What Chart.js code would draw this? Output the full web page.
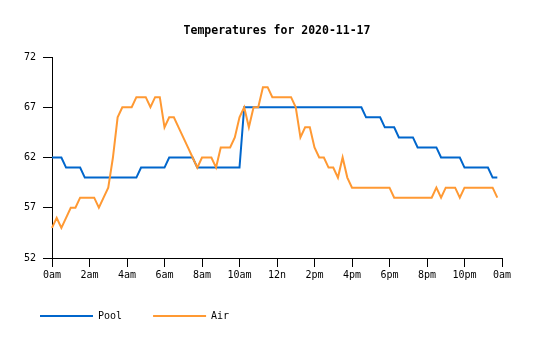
<!DOCTYPE html>
<html>
<head>
<meta charset="utf-8">
<script src="https://cdn.jsdelivr.net/npm/chart.js@4.4.0/dist/chart.umd.min.js"></script>
<style>
html,body{margin:0;padding:0;background:#fff;}
canvas{display:block;}
</style>
</head>
<body>
<canvas id="c" width="535" height="340"></canvas>
<script>
const times = [
"00:00","00:15","00:30","00:45","01:00","01:15","01:30","01:45",
"02:00","02:15","02:30","02:45","03:00","03:15","03:30","03:45",
"04:00","04:15","04:30","04:45","05:00","05:15","05:30","05:45",
"06:00","06:15","06:30","06:45","07:00","07:15","07:30","07:45",
"08:00","08:15","08:30","08:45","09:00","09:15","09:30","09:45",
"10:00","10:15","10:30","10:45","11:00","11:15","11:30","11:45",
"12:00","12:15","12:30","12:45","13:00","13:15","13:30","13:45",
"14:00","14:15","14:30","14:45","15:00","15:15","15:30","15:45",
"16:00","16:15","16:30","16:45","17:00","17:15","17:30","17:45",
"18:00","18:15","18:30","18:45","19:00","19:15","19:30","19:45",
"20:00","20:15","20:30","20:45","21:00","21:15","21:30","21:45",
"22:00","22:15","22:30","22:45","23:00","23:15","23:30","23:45",
"24:00"
];
const tickLabels = ["0am","2am","4am","6am","8am","10am","12n","2pm","4pm","6pm","8pm","10pm","0am"];
const yTicks = [52, 57, 62, 67, 72];

const pool = [
62,62,62,61,61,61,61,60,60,60,60,60,
60,60,60,60,60,60,60,61,61,61,61,61,
61,62,62,62,62,62,62,61,61,61,61,61,
61,61,61,61,61,67,67,67,67,67,67,67,
67,67,67,67,67,67,67,67,67,67,67,67,
67,67,67,67,67,67,67,66,66,66,66,65,
65,65,64,64,64,64,63,63,63,63,63,62,
62,62,62,62,61,61,61,61,61,61,60,60
];
const air = [
55,56,55,56,57,57,58,58,58,58,57,58,
59,62,66,67,67,67,68,68,68,67,68,68,
65,66,66,65,64,63,62,61,62,62,62,61,
63,63,63,64,66,67,65,67,67,69,69,68,
68,68,68,68,67,64,65,65,63,62,62,61,
61,60,62,60,59,59,59,59,59,59,59,59,
59,58,58,58,58,58,58,58,58,58,59,58,
59,59,59,58,59,59,59,59,59,59,59,58
];

const POOL_COLOR = "#0066cc";
const AIR_COLOR = "#ff9933";
const FONT = "'DejaVu Sans Mono', 'Liberation Mono', monospace";

Chart.defaults.font.family = FONT;
Chart.defaults.color = "#000";

new Chart(document.getElementById("c"), {
  type: "line",
  data: {
    labels: times,
    datasets: [
      { label: "Pool", data: pool, borderColor: POOL_COLOR, backgroundColor: POOL_COLOR,
        borderWidth: 2, pointRadius: 0, tension: 0, fill: false, order: 2 },
      { label: "Air", data: air, borderColor: AIR_COLOR, backgroundColor: AIR_COLOR,
        borderWidth: 2, pointRadius: 0, tension: 0, fill: false, order: 1 }
    ]
  },
  options: {
    responsive: false,
    animation: false,
    layout: { padding: { left: 9, right: 33, top: 0, bottom: 9 } },
    plugins: {
      tooltip: { enabled: false },
      title: {
        display: true,
        text: "Temperatures for 2020-11-17",
        fullSize: false,
        color: "#000",
        font: { family: FONT, size: 11.5, weight: "bold", lineHeight: 1.2 },
        padding: { top: 24, bottom: 19.2 }
      },
      legend: {
        display: true,
        position: "bottom",
        align: "start",
        labels: {
          boxWidth: 53,
          boxHeight: 2,
          padding: 31,
          color: "#000",
          font: { family: FONT, size: 10 },
          sort: (a, b) => a.datasetIndex - b.datasetIndex,
          generateLabels: (chart) =>
            Chart.defaults.plugins.legend.labels.generateLabels(chart).map(l => Object.assign(l, { lineWidth: 0 }))
        }
      }
    },
    scales: {
      x: {
        type: "category",
        offset: false,
        afterFit: (s) => { s.height = 22; },
        border: { display: true, color: "#000", width: 1 },
        grid: {
          display: true, drawOnChartArea: false, drawTicks: true, tickLength: 9,
          color: (ctx) => (ctx.tick && ctx.tick.value % 8 === 0) ? "#000" : "rgba(0,0,0,0)"
        },
        ticks: {
          autoSkip: false, maxRotation: 0, minRotation: 0, padding: 2,
          color: "#000", font: { family: FONT, size: 10 },
          callback: (value, index) => (value % 8 === 0) ? tickLabels[value / 8] : ""
        }
      },
      y: {
        min: yTicks[0],
        max: yTicks[yTicks.length - 1],
        afterFit: (s) => { s.width = 43; },
        afterBuildTicks: (s) => { s.ticks = yTicks.map(v => ({ value: v })); },
        border: { display: true, color: "#000", width: 1 },
        grid: { display: true, drawOnChartArea: false, drawTicks: true, tickLength: 9, color: "#000" },
        ticks: { padding: 7, color: "#000", font: { family: FONT, size: 10 } }
      }
    }
  }
});
</script>
</body>
</html>
